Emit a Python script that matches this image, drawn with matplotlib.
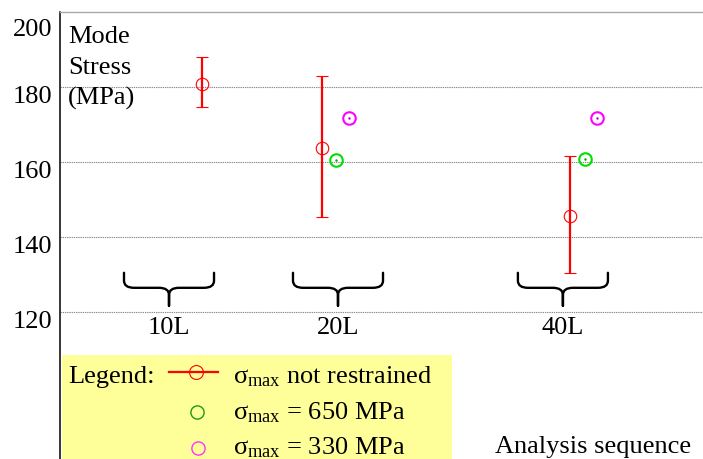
import matplotlib
matplotlib.use('Agg')
import matplotlib.pyplot as plt
from matplotlib.path import Path
from matplotlib.patches import PathPatch
import matplotlib.transforms as mtransforms

plt.rcParams['font.family'] = ['Liberation Serif', 'DejaVu Serif']
plt.rcParams['mathtext.fontset'] = 'custom'
plt.rcParams['mathtext.rm'] = 'Liberation Serif'
plt.rcParams['mathtext.it'] = 'Liberation Serif:italic'

# ---------------- data ----------------
categories = ['10L', '20L', '40L']
category_x = [1.0, 2.006, 3.345]
unrestrained_x = [1.196, 1.91, 3.387]
unrestrained_mode = [180.7, 163.6, 145.6]
unrestrained_high = [187.8, 182.8, 161.4]
unrestrained_low = [174.5, 145.3, 130.3]
s650_x = [1.994, 3.476]
s650_mode = [160.5, 160.7]
s330_x = [2.071, 3.548]
s330_mode = [171.7, 171.7]
y_ticks = [120, 140, 160, 180, 200]
grid_values = [120, 140, 160, 180]
legend_labels = [r'$\mathrm{\sigma_{max}}$ not restrained',
                 r'$\mathrm{\sigma_{max}}$ = 650 MPa',
                 r'$\mathrm{\sigma_{max}}$ = 330 MPa']

FS = 19
W, H = 703, 459
fig = plt.figure(figsize=(W / 100, H / 100), dpi=100)
ax = fig.add_axes([60 / W, 0, 1 - 60 / W, (H - 11.5) / H])
ax.set_xlim(0.351, 4.179)
ax.set_ylim(80.8, 200)

for g in grid_values:
    ax.axhline(g, color='#8a8a8a', lw=0.8, ls=(0, (1.2, 0.8)), zorder=1)

for s in ['right', 'bottom']:
    ax.spines[s].set_visible(False)
ax.spines['left'].set_color('black')
ax.spines['left'].set_linewidth(1.1)
ax.spines['top'].set_color('#a8a8a8')
ax.spines['top'].set_linewidth(1.0)

ax.set_xticks([])
ax.set_yticks(y_ticks)
ax.set_yticklabels([str(v) for v in y_ticks])
ax.tick_params(axis='y', length=0, pad=5.8, labelsize=FS)
for v, lab in zip(y_ticks, ax.get_yticklabels()):
    dy = -16 if v == 200 else -8
    lab.set_transform(lab.get_transform() +
                      mtransforms.ScaledTranslation(0, dy / 100, fig.dpi_scale_trans))

# error bars (not restrained)
lo_err = [m - l for m, l in zip(unrestrained_mode, unrestrained_low)]
hi_err = [h - m for m, h in zip(unrestrained_mode, unrestrained_high)]
ax.errorbar(unrestrained_x, unrestrained_mode, yerr=[lo_err, hi_err], fmt='o',
            mfc='none', mec='red', ms=9, mew=0.8, ecolor='red',
            elinewidth=1.6, capsize=4.3, capthick=0.8, zorder=3)

ax.plot(s650_x, s650_mode, 'o', mfc='none', mec='#00dd00', ms=9, mew=1.5, zorder=3)
ax.plot(s650_x, s650_mode, '.', color='#00aa00', ms=1.5, zorder=3)
ax.plot(s330_x, s330_mode, 'o', mfc='none', mec='#ff00ff', ms=9, mew=1.5, zorder=3)
ax.plot(s330_x, s330_mode, '.', color='#cc00cc', ms=1.5, zorder=3)

# braces
w, rx = 0.268, 0.06
ytop, ymid, ybot, ry = 130.4, 126.4, 121.6, 1.9
for cx, cat in zip(category_x, categories):
    verts, codes = [], []
    for sgn in (-1, 1):
        xe = cx + sgn * w
        verts += [(xe, ytop), (xe, ymid + ry), (xe, ymid), (xe - sgn * rx, ymid),
                  (cx + sgn * rx, ymid), (cx, ymid), (cx, ymid - ry), (cx, ybot)]
        codes += [Path.MOVETO, Path.LINETO, Path.CURVE3, Path.CURVE3,
                  Path.LINETO, Path.CURVE3, Path.CURVE3, Path.LINETO]
    ax.add_patch(PathPatch(Path(verts, codes), fill=False, lw=1.7,
                           edgecolor='black', capstyle='round', joinstyle='round'))
    ax.text(cx, 114.1, cat, ha='center', va='baseline', fontsize=FS)

# y label text
for txt, yb in zip(['Mode', 'Stress', '(MPa)'], [43, 74, 105]):
    fig.text(68 / W, 1 - yb / H, txt, ha='left', va='baseline', fontsize=FS)

# legend box
lax = fig.add_axes([61.5 / W, 0, (452 - 61.5) / W, (H - 355) / H])
lax.set_xlim(61.5, 452)
lax.set_ylim(H, 355)
lax.set_facecolor('#ffff99')
for s in lax.spines.values():
    s.set_visible(False)
lax.set_xticks([])
lax.set_yticks([])
lax.text(68, 383, 'Legend:', ha='left', va='baseline', fontsize=FS)
lax.plot([169, 218], [372, 372], color='red', lw=1.6)
lax.plot([196], [372], 'o', mfc='none', mec='red', ms=10, mew=0.8)
lax.plot([196.7], [411.7], 'o', mfc='none', mec='#1a9a1a', ms=9.5, mew=1.0)
lax.plot([198], [448], 'o', mfc='none', mec='#ff33ff', ms=9.5, mew=1.0)
for lab, yb in zip(legend_labels, [383, 419, 454]):
    lax.text(233, yb, lab, ha='left', va='baseline', fontsize=FS)

fig.text(495 / W, 1 - 453 / H, 'Analysis sequence', ha='left', va='baseline', fontsize=FS)

fig.savefig('out.png', dpi=100)
